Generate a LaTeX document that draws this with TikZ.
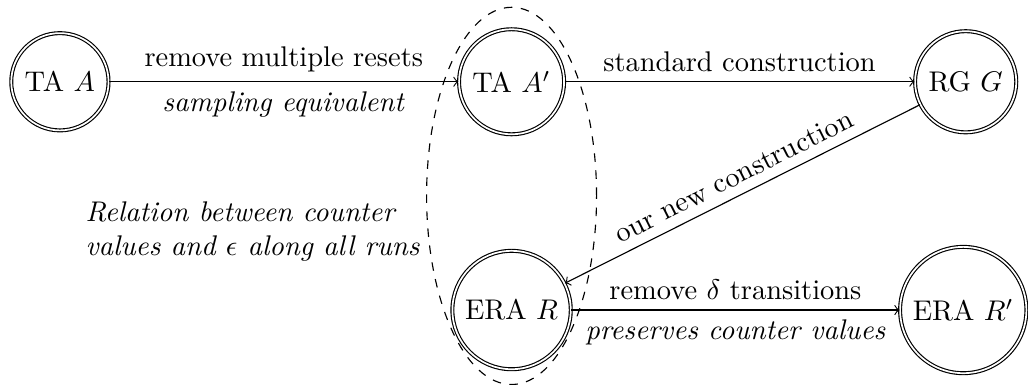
\documentclass[tikz,border=0pt]{standalone}
\usepackage{amsmath, amssymb}
\usepackage{tikz}
\usetikzlibrary{positioning, calc}

\begin{document}
\begin{tikzpicture}[on grid,
  st/.style={circle, draw, double},
  edge/.style={->}]

\useasboundingbox (-0.74,1.01) rectangle (11.96,-3.74);

% States
\node[st] (ta) {TA $A$};
\node[st, right=5.58cm of ta] (tap) {TA $A'$};
\node[st, right=5.61cm of tap] (rg) {RG $G$};
\node[st, below=2.82cm of tap] (era) {ERA $R$};
\node[st, right=5.58cm of era] (erap) {ERA $R'$};

% Transitions
\draw[edge] (ta) -- (tap)
  node[midway, above] {remove multiple resets}
  node[midway, below] {\textit{sampling equivalent}};
\draw[edge] (tap) -- (rg)
  node[midway, above] {standard construction};
\draw[edge] (rg) -- (era)
  node[midway, above, sloped] {our new construction};
\draw[edge] (era) -- (erap)
  node[midway, above] {remove $\delta$ transitions}
  node[midway, below] {\textit{preserves counter values}};

% Dashed region round A' and R
\draw[dashed] ($(tap)!0.5!(era)$) ellipse (1.05cm and 2.33cm);
\node[align=left, font=\itshape] (rel) at (2.38,-1.85)
  {Relation between counter\\ values and $\epsilon$ along all runs};

\end{tikzpicture}
\end{document}
